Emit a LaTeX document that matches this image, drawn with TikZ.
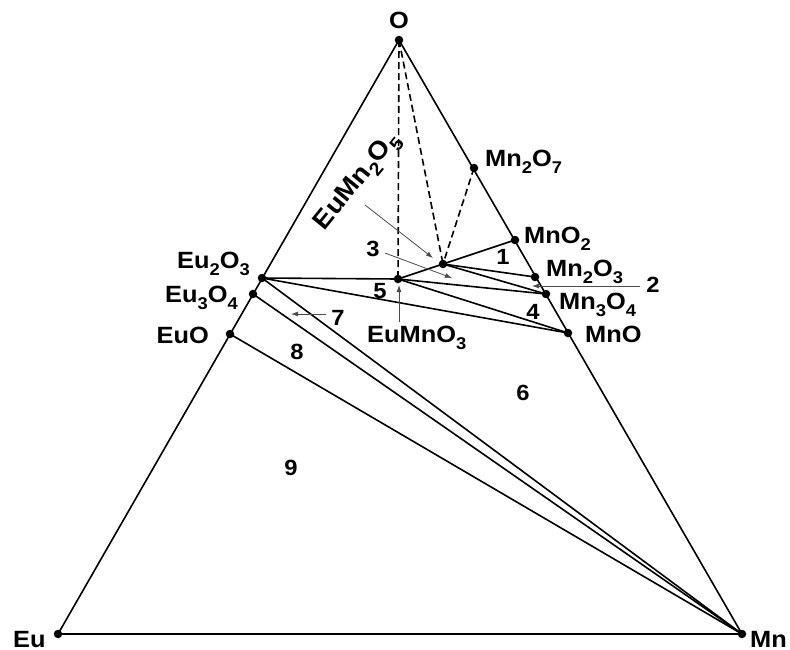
\documentclass[tikz,border=0pt]{standalone}
\usepackage{fontspec}
\setmainfont{Liberation Sans}[FakeStretch=1.08]
\usetikzlibrary{arrows.meta}
\newcommand\sbs[1]{\raisebox{-0.3em}{\fontsize{17}{17}\selectfont #1}}
\newcommand\sbsb[1]{\raisebox{-0.3em}{\fontsize{18.5}{18.5}\selectfont #1}}
\begin{document}
\begin{tikzpicture}[x=1pt,y=-1pt,
  dot/.style={circle,fill=black,inner sep=0pt,minimum size=8.5pt},
  edge/.style={line width=1.6pt},
  dline/.style={line width=1.6pt,dash pattern=on 7pt off 4pt},
  lbl/.style={font=\fontsize{23.5}{23.5}\selectfont\bfseries,inner sep=0pt},
  biglbl/.style={font=\fontsize{25.5}{25.5}\selectfont\bfseries,inner sep=0pt},
  num/.style={font=\fontsize{22}{22}\selectfont\bfseries,inner sep=0pt},
  ptr/.style={line width=0.8pt,draw=black!70,-{Latex[length=7pt,width=5pt]}}]
\useasboundingbox (0,0) rectangle (790,649);
% phase points
\node[dot] (O) at (399,40) {};
\node[dot] (Eu) at (58,634) {};
\node[dot] (Mn) at (742,634) {};
\node[dot] (Mn2O7) at (474,168) {};
\node[dot] (MnO2) at (515,240) {};
\node[dot] (Mn2O3) at (535,277) {};
\node[dot] (Mn3O4) at (546,294) {};
\node[dot] (MnO) at (568,333) {};
\node[dot] (Eu2O3) at (262,278) {};
\node[dot] (Eu3O4) at (253,294) {};
\node[dot] (EuO) at (230,334) {};
\node[dot] (EuMnO3) at (398,279) {};
\node[dot] (EuMn2O5) at (443,264) {};
% triangle
\draw[edge] (O.center) -- (Eu.center) -- (Mn.center) -- cycle;
% dashed
\draw[dline] (O.center) -- (EuMnO3.center);
\draw[dline] (O.center) -- (EuMn2O5.center);
\draw[dline] (Mn2O7.center) -- (EuMn2O5.center);
% tie lines
\draw[edge] (EuMnO3.center) -- (EuMn2O5.center) -- (MnO2.center);
\draw[edge] (Eu2O3.center) -- (EuMnO3.center);
\draw[edge] (EuMn2O5.center) -- (Mn2O3.center);
\draw[edge] (EuMn2O5.center) -- (Mn3O4.center);
\draw[edge] (EuMnO3.center) -- (Mn3O4.center);
\draw[edge] (EuMnO3.center) -- (MnO.center);
\draw[edge] (Eu2O3.center) -- (MnO.center);
\draw[edge] (Eu2O3.center) -- (Mn.center);
\draw[edge] (Eu3O4.center) -- (Mn.center);
\draw[edge] (EuO.center) -- (Mn.center);
% labels
\node[lbl,anchor=base] (lO) at (399,28) {O};
\node[lbl,anchor=base west] (lEu) at (13,647) {Eu};
\node[lbl,anchor=base west] (lMn) at (750,647) {Mn};
\node[lbl,anchor=base west] (lMn2O7) at (485,166) {Mn\sbs{2}O\sbs{7}};
\node[lbl,anchor=base west] (lMnO2) at (524,243) {MnO\sbs{2}};
\node[lbl,anchor=base west] (lMn2O3) at (546,276) {Mn\sbs{2}O\sbs{3}};
\node[lbl,anchor=base west] (lMn3O4) at (559,309) {Mn\sbs{3}O\sbs{4}};
\node[lbl,anchor=base west] (lMnO) at (585,342) {MnO};
\node[lbl,anchor=base east] (lEu2O3) at (250,268) {Eu\sbs{2}O\sbs{3}};
\node[lbl,anchor=base east] (lEu3O4) at (238,302) {Eu\sbs{3}O\sbs{4}};
\node[lbl,anchor=base east] (lEuO) at (209,343) {EuO};
\node[lbl,anchor=base west] (lEuMnO3) at (367,342) {EuMnO\sbs{3}};
\node[biglbl,rotate=51] (lEuMn2O5) at (358,182) {EuMn\sbsb{2}O\sbsb{5}};
% region numbers
\node[num] (n1) at (503,257) {1};
\node[num] (n2) at (653,285) {2};
\node[num] (n3) at (373,249) {3};
\node[num] (n4) at (533,312) {4};
\node[num] (n5) at (380,291) {5};
\node[num] (n6) at (523,393) {6};
\node[num] (n7) at (338,318) {7};
\node[num] (n8) at (297,352) {8};
\node[num] (n9) at (291,468) {9};
% pointer arrows
\coordinate (a1s) at (365,205); \coordinate (a1e) at (433,258);
\coordinate (a3s) at (385,253); \coordinate (a3e) at (452,278);
\coordinate (a2s) at (640,286); \coordinate (a2e) at (532,286);
\coordinate (a7s) at (326,314); \coordinate (a7e) at (291,314);
\coordinate (a5s) at (399,322); \coordinate (a5e) at (399,285);
\draw[ptr] (a1s) -- (a1e);
\draw[ptr] (a3s) -- (a3e);
\draw[ptr] (a2s) -- (a2e);
\draw[ptr] (a7s) -- (a7e);
\draw[ptr] (a5s) -- (a5e);
\end{tikzpicture}
\end{document}
